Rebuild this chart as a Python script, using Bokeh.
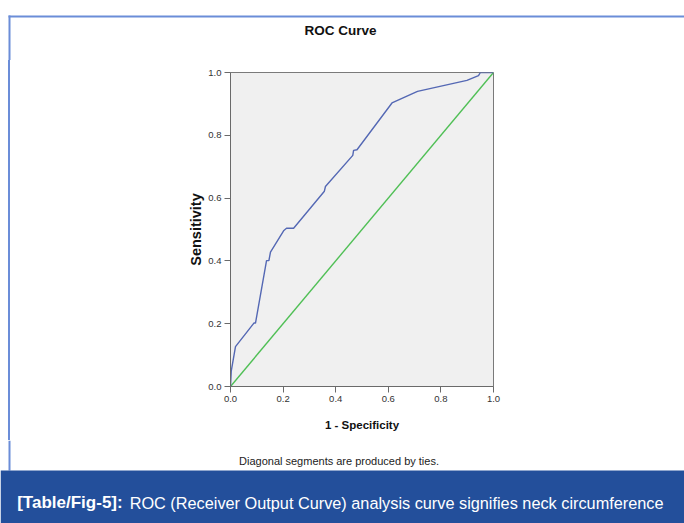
from bokeh.plotting import figure
from bokeh.layouts import column, row, Spacer
from bokeh.models import Range1d, FixedTicker, PrintfTickFormatter, Label, BoxAnnotation
from bokeh.embed import file_html
from bokeh.resources import INLINE

# ROC curve
fpr = [0.0, 0.003, 0.019, 0.089, 0.095, 0.137, 0.146, 0.152, 0.203, 0.213, 0.240,
       0.357, 0.361, 0.465, 0.468, 0.481, 0.614, 0.711, 0.899, 0.943, 0.950, 1.0]
tpr = [0.0, 0.050, 0.127, 0.202, 0.202, 0.401, 0.401, 0.428, 0.497, 0.504, 0.504,
       0.622, 0.637, 0.736, 0.752, 0.754, 0.903, 0.940, 0.975, 0.990, 1.0, 1.0]
ref_x = [0.0, 1.0]
ref_y = [0.0, 1.0]
ticks = [0.0, 0.2, 0.4, 0.6, 0.8, 1.0]

title_text = "ROC Curve"
x_label = "1 - Specificity"
y_label = "Sensitivity"
note_text = "Diagonal segments are produced by ties."
caption_bold = "[Table/Fig-5]:"
caption_rest = "ROC (Receiver Output Curve) analysis curve signifies neck circumference"

FRAME_BLUE = "#6b8dd8"
BAND_BLUE = "#234f9b"
FONT = "Liberation Sans"


def pixel_fig(width, height, color):
    """A figure whose frame fills the canvas; data units equal pixels (y downwards)."""
    f = figure(width=width, height=height, output_backend="svg", toolbar_location=None,
               x_axis_type=None, y_axis_type=None, title=None,
               x_range=Range1d(0, width), y_range=Range1d(height, 0),
               min_border_left=0, min_border_top=0, min_border_right=0, min_border_bottom=0)
    f.background_fill_color = color
    f.border_fill_color = color
    f.outline_line_color = None
    f.xgrid.visible = False
    f.ygrid.visible = False
    return f


def box(left, right, top, bottom, color):
    return BoxAnnotation(left=left, right=right, top=top, bottom=bottom,
                         fill_color=color, fill_alpha=1, line_alpha=0)


# ---- head: frame border and chart title
head = pixel_fig(684, 60, "white")
head.add_layout(box(8, 684, 15, 17, FRAME_BLUE))
head.add_layout(box(8, 10, 15, 60, FRAME_BLUE))
head.add_layout(Label(x=340, y=29.5, text=title_text, text_font=FONT,
                      text_font_style="bold", text_font_size="13.5px",
                      text_align="center", text_baseline="alphabetic", text_color="#111111"))

# ---- the ROC chart
p = figure(width=674, height=380, output_backend="svg", toolbar_location=None,
           x_range=Range1d(0, 1), y_range=Range1d(0, 1), title=None,
           min_border_left=220, min_border_right=191, min_border_top=12, min_border_bottom=54)
p.background_fill_color = "#f0f0f0"
p.border_fill_color = "white"
p.outline_line_color = "#7a7a7a"
p.xgrid.visible = False
p.ygrid.visible = False

for ax in (p.xaxis[0], p.yaxis[0]):
    ax.ticker = FixedTicker(ticks=ticks)
    ax.formatter = PrintfTickFormatter(format="%.1f")
    ax.minor_tick_line_color = None
    ax.major_tick_in = 0
    ax.major_tick_out = 6
    ax.axis_line_color = "#6a6a6a"
    ax.major_tick_line_color = "#6a6a6a"
    ax.major_label_text_font = FONT
    ax.major_label_text_font_size = "9.5px"
    ax.major_label_text_color = "#333333"
    ax.major_label_standoff = 3
    ax.axis_label_text_font = FONT
    ax.axis_label_text_font_style = "bold"
    ax.axis_label_text_color = "#111111"

p.xaxis[0].axis_label = x_label
p.xaxis[0].axis_label_text_font_size = "11.5px"
p.xaxis[0].axis_label_standoff = 14
p.yaxis[0].axis_label = y_label
p.yaxis[0].axis_label_text_font_size = "14.5px"
p.yaxis[0].axis_label_standoff = 1

p.line(ref_x, ref_y, line_color="#4fbf55", line_width=1.4)
p.line(fpr, tpr, line_color="#5468b4", line_width=1.4)

# ---- bottom: footnote and caption band
bottom = pixel_fig(684, 83, "white")
bottom.add_layout(box(8, 10, 0, 30, FRAME_BLUE))
bottom.add_layout(box(0, 684, 30, 83, BAND_BLUE))
bottom.add_layout(Label(x=338.5, y=20, text=note_text, text_font=FONT,
                        text_font_size="11px", text_align="center",
                        text_baseline="alphabetic", text_color="#222222"))
bottom.add_layout(Label(x=16.7, y=62, text=caption_bold, text_font=FONT,
                        text_font_style="bold", text_font_size="17px", text_align="left",
                        text_baseline="alphabetic", text_color="white"))
bottom.add_layout(Label(x=663, y=62, text=caption_rest, text_font=FONT,
                        text_font_size="16.3px", text_align="right",
                        text_baseline="alphabetic", text_color="white"))

layout = column(
    head,
    row(Spacer(width=8, height=380),
        Spacer(width=2, height=380, styles={"background-color": FRAME_BLUE}),
        p, spacing=0),
    bottom,
    spacing=0,
)
open("out.html", "w").write(file_html(layout, INLINE))
